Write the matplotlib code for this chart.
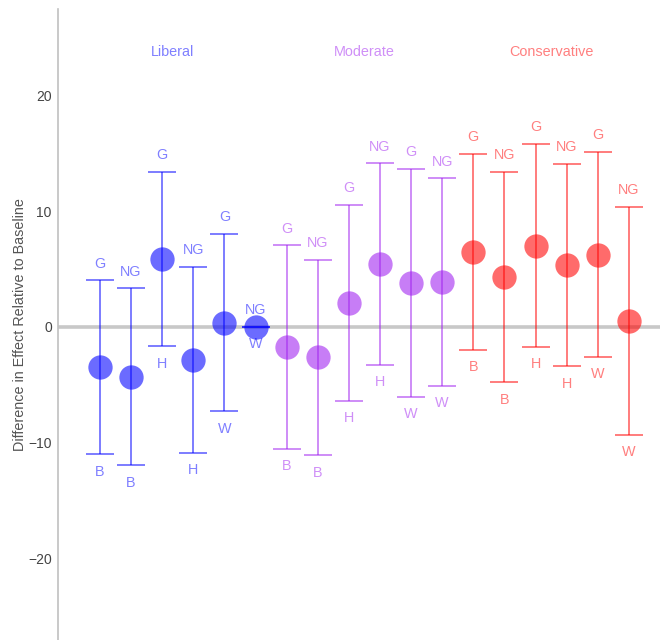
import matplotlib
matplotlib.use("Agg")
import matplotlib.pyplot as plt

plt.rcParams['font.family'] = ['Liberation Sans', 'DejaVu Sans']

# Estimates and 95% intervals, ordered Liberal / Moderate / Conservative
groups = ["Liberal", "Moderate", "Conservative"]
group_colors = ["#0000FF", "#A020F0", "#FF0000"]
estimate = [-3.48, -4.31, 5.86, -2.82, 0.34, 0.0,
            -1.73, -2.62, 2.07, 5.40, 3.79, 3.85,
            6.43, 4.31, 7.01, 5.31, 6.23, 0.52]
ci_low = [-10.98, -11.93, -1.67, -10.84, -7.27, 0.0,
          -10.52, -11.07, -6.35, -3.28, -6.03, -5.09,
          -1.98, -4.78, -1.72, -3.40, -2.59, -9.28]
ci_high = [4.02, 3.33, 13.39, 5.20, 8.04, 0.0,
           7.03, 5.80, 10.52, 14.10, 13.65, 12.81,
           14.91, 13.39, 15.78, 14.08, 15.09, 10.37]
top_labels = ["G", "NG"] * 9
bottom_labels = ["B", "B", "H", "H", "W", "W"] * 3
group_label_x = [3.32, 9.49, 15.5]
group_label_y = 23.75

fig = plt.figure(figsize=(6.6, 6.4), dpi=100)
ax = fig.add_axes([0.0879, 0.0, 0.9121, 0.9855])

ax.axhline(0, color="#c8c8c8", lw=2.6, zorder=1)

for i in range(len(estimate)):
    g = i // 6
    c = group_colors[g]
    x = i + 1
    ax.errorbar(x, estimate[i],
                yerr=[[estimate[i] - ci_low[i]], [ci_high[i] - estimate[i]]],
                fmt="none", ecolor=c, alpha=0.6, elinewidth=1.2,
                capsize=10, capthick=1.2, zorder=2)
    ax.plot(x, estimate[i], "o", color=c, alpha=0.58, ms=17.5,
            mew=0, zorder=3)
    ax.annotate(top_labels[i], (x, ci_high[i]), xytext=(0, 12),
                textcoords="offset points", ha="center", va="center",
                color=c, alpha=0.5, fontsize=10.4)
    ax.annotate(bottom_labels[i], (x, ci_low[i]), xytext=(0, -12.5),
                textcoords="offset points", ha="center", va="center",
                color=c, alpha=0.5, fontsize=10.4)

for gx, name, c in zip(group_label_x, groups, group_colors):
    ax.text(gx, group_label_y, name, ha="center", va="center",
            color=c, alpha=0.5, fontsize=10.4)

ax.set_xlim(-0.35, 19.0)
ax.set_ylim(-27.0, 27.4)
ax.set_yticks([-20, -10, 0, 10, 20])
ax.set_xticks([])
ax.tick_params(axis="y", length=0, labelsize=10, labelcolor="#444444", pad=4.5)
ax.set_ylabel("Difference in Effect Relative to Baseline", fontsize=10.4,
              color="#555555", labelpad=0.5)

for side in ["top", "right", "bottom"]:
    ax.spines[side].set_visible(False)
ax.spines["left"].set_color("#c0c0c0")
ax.spines["left"].set_linewidth(1.2)

fig.savefig("out.png", dpi=100)
